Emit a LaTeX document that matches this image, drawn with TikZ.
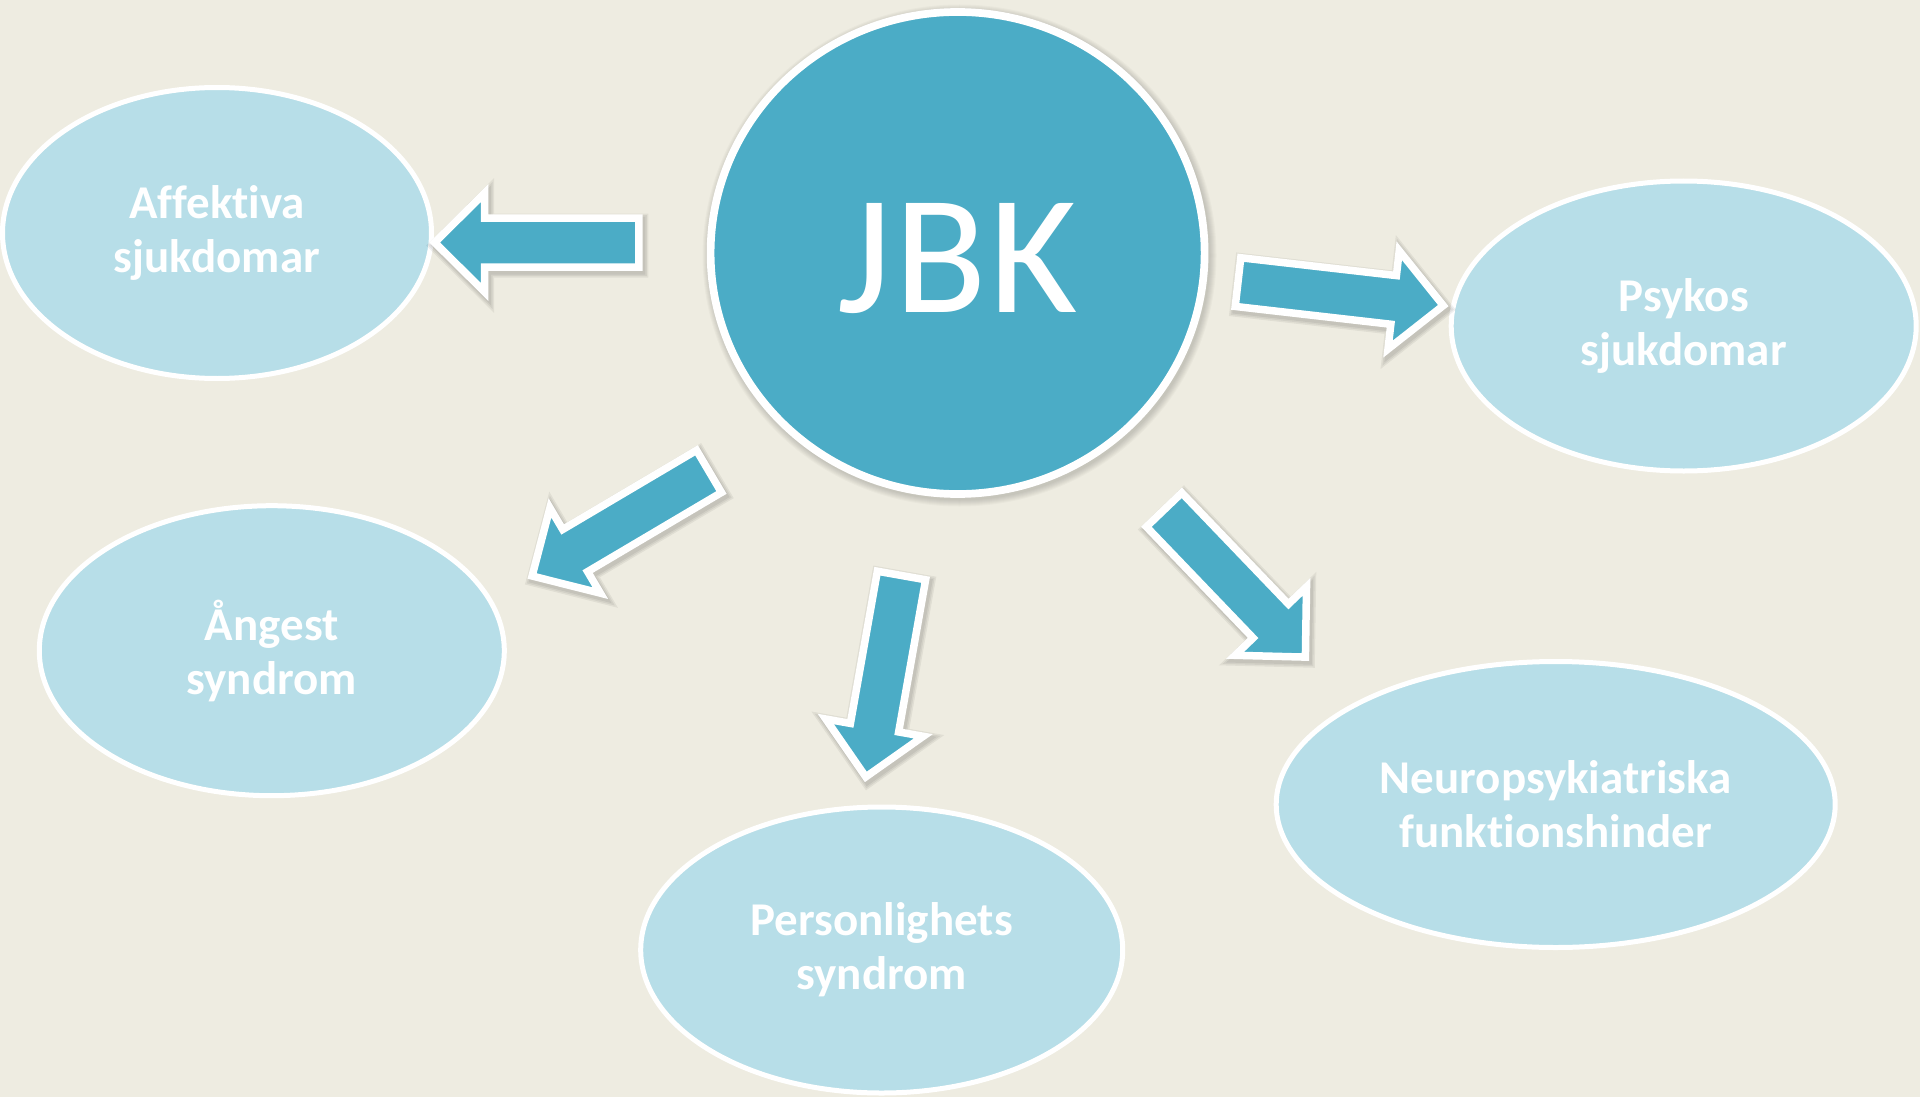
\documentclass[tikz,border=0pt]{standalone}
\usepackage{fontspec}
\setmainfont{Carlito}[Ligatures=NoCommon]
\usetikzlibrary{shapes.geometric}
\definecolor{bgc}{HTML}{EEECE1}
\definecolor{jbkblue}{HTML}{4BACC6}
\definecolor{lightblue}{HTML}{B7DEE8}
\tikzset{
  bubble/.style={ellipse, fill=lightblue, draw=white, line width=5pt, inner sep=0pt,
    text=white, align=center, font=\fontsize{47}{54}\selectfont\bfseries},
  arrowbody/.style={fill=jbkblue, draw=white, line width=7.5pt, line join=miter},
  arrowshade/.style={fill=black, draw=black, opacity=0.06, line join=miter}
}
\newcommand\blockarrow[4]{%
  \pgfpointdiff{\pgfpointanchor{#1}{center}}{\pgfpointanchor{#2}{center}}%
  \pgfgetlastxy{\arrdx}{\arrdy}%
  \pgfmathsetmacro\arrlen{veclen(\arrdx,\arrdy)}%
  \pgfmathsetmacro\arrang{atan2(\arrdy,\arrdx)}%
  \pgfpointanchor{#1}{center}\pgfgetlastxy{\arrtx}{\arrty}%
  \begin{scope}[shift={(\arrtx,\arrty)}, shift={(#4)}, rotate=\arrang]
    \path[#3] (0,24.5) -- (\arrlen-50,24.5) -- (\arrlen-50,49.5) -- (\arrlen,0)
      -- (\arrlen-50,-49.5) -- (\arrlen-50,-24.5) -- (0,-24.5) -- cycle;
  \end{scope}}
\newcommand\shadedarrow[2]{%
  \blockarrow{#1}{#2}{arrowshade, line width=9pt}{2pt,-3pt}%
  \blockarrow{#1}{#2}{arrowshade, line width=12pt}{2pt,-3pt}%
  \blockarrow{#1}{#2}{arrowshade, line width=15pt}{2pt,-3pt}%
  \blockarrow{#1}{#2}{arrowbody}{0pt,0pt}}
\begin{document}
\begin{tikzpicture}[x=1pt,y=-1pt]
  \useasboundingbox (0,0) rectangle (1920,1097);
  \fill[bgc] (0,0) rectangle (1920,1097);

  % shadow of central circle
  \foreach \k in {1,...,7}
    \fill[black, opacity=0.025] (959.5,255.5) ellipse ({250+\k} and {244+\k});

  \node[ellipse, fill=jbkblue, draw=white, line width=7.7pt, inner sep=0pt,
        minimum width=494pt, minimum height=482pt, text=white,
        font=\fontsize{170}{200}\selectfont] (jbk) at (957.6,253)
        {\raisebox{-6pt}[\height][\depth]{J\kern3pt B\kern3pt K}};

  \node[bubble, minimum width=429pt, minimum height=291pt] (aff) at (217,233) {Affektiva\\sjukdomar};
  \node[bubble, minimum width=465pt, minimum height=290pt] (psy) at (1683.7,326) {Psykos\\sjukdomar};
  \node[bubble, minimum width=465pt, minimum height=290pt] (ang) at (271.8,650.7) {Ångest\\syndrom};
  \node[bubble, minimum width=482pt, minimum height=286pt] (per) at (881.7,950) {Personlighets\\syndrom};
  \node[bubble, minimum width=559pt, minimum height=286pt] (neu) at (1555.7,804.5) {Neuropsykiatriska\\funktionshinder};

  % arrow end points
  \coordinate (a1t) at (638.75,242.5);  \coordinate (a1h) at (434.7,242.5);
  \coordinate (a2t) at (1238.0,282.1);  \coordinate (a2h) at (1443.3,305.6);
  \coordinate (a3t) at (709.0,471.4);   \coordinate (a3h) at (532.1,576.0);
  \coordinate (a4t) at (901.5,575.5);   \coordinate (a4h) at (865.8,776.9);
  \coordinate (a5t) at (1164.1,509.8);  \coordinate (a5h) at (1305.4,657.1);

  \shadedarrow{a1t}{a1h}
  \shadedarrow{a2t}{a2h}
  \shadedarrow{a3t}{a3h}
  \shadedarrow{a4t}{a4h}
  \shadedarrow{a5t}{a5h}
\end{tikzpicture}
\end{document}
